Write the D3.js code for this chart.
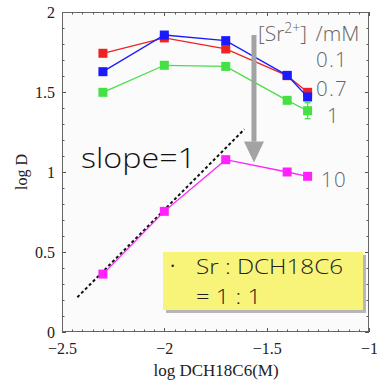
<!DOCTYPE html>
<html><head><meta charset="utf-8">
<script src="https://cdn.jsdelivr.net/npm/d3@7"></script>
<style>body{margin:0;background:#fff}svg{display:block}</style>
</head><body>
<svg id="c" width="377" height="381"></svg>
<script>
const xValues = [-2.3, -2.0, -1.7, -1.4, -1.3];
const red = [1.742, 1.838, 1.769, 1.602, 1.498];
const blue = [1.627, 1.856, 1.821, 1.604, 1.469];
const green = [1.498, 1.667, 1.660, 1.448, 1.383];
const greenErr = [0, 0, 0, 0.015, 0.05];
const magenta = [0.362, 0.754, 1.077, 1.0, 0.973];
const seriesLabels = ["0.1", "0.7", "1", "10"];
const slopeLineX = [-2.425, -1.609];
const slopeLineY = [0.217, 1.267];
const xTicks = [-2.5, -2, -1.5, -1];
const yTicks = [0, 0.5, 1, 1.5, 2];

const svg = d3.select("#c");
const L = 62, R = 369, T = 12, B = 332;
const x = d3.scaleLinear().domain([-2.5, -1]).range([L, R]);
const y = d3.scaleLinear().domain([0, 2]).range([B, T]);

svg.append("rect").attr("x", L).attr("y", T).attr("width", R - L).attr("height", B - T).attr("fill", "#fbfbfb");

// minor ticks
const tickCol = "#555";
const xMinor = d3.range(0, 31).map(i => -2.5 + i * 0.05);
const yMinor = d3.range(0, 21).map(i => i * 0.1);
const tg = svg.append("g").attr("stroke", tickCol).attr("stroke-width", 1);
xMinor.forEach(v => {
  const px = Math.round(x(v)) + 0.5;
  const len = (Math.abs((v * 2) - Math.round(v * 2)) < 1e-6) ? 4 : 2.5;
  tg.append("line").attr("x1", px).attr("x2", px).attr("y1", B).attr("y2", B - len);
  tg.append("line").attr("x1", px).attr("x2", px).attr("y1", T).attr("y2", T + len);
});
yMinor.forEach(v => {
  const py = Math.round(y(v)) + 0.5;
  const len = (Math.abs((v * 2) - Math.round(v * 2)) < 1e-6) ? 4 : 2.5;
  tg.append("line").attr("x1", L).attr("x2", L + len).attr("y1", py).attr("y2", py);
  tg.append("line").attr("x1", R).attr("x2", R - len).attr("y1", py).attr("y2", py);
});

// axes labels via d3 axes
const serif = "'Liberation Serif', 'DejaVu Serif', serif";
const xAxis = svg.append("g").attr("transform", `translate(0,${B})`)
  .call(d3.axisBottom(x).tickValues(xTicks).tickSize(0).tickPadding(11).tickFormat(d3.format("")));
xAxis.select(".domain").remove();
xAxis.selectAll("text").attr("font-family", serif).attr("font-size", 16).attr("fill", "#222");
const yAxis = svg.append("g").attr("transform", `translate(${L},0)`)
  .call(d3.axisLeft(y).tickValues(yTicks).tickSize(0).tickPadding(7).tickFormat(d3.format("")));
yAxis.select(".domain").remove();
yAxis.selectAll("text").attr("font-family", serif).attr("font-size", 16).attr("fill", "#222");

svg.append("rect").attr("x", L + 0.5).attr("y", T + 0.5).attr("width", R - L - 1).attr("height", B - T - 1)
  .attr("fill", "none").attr("stroke", "#666").attr("stroke-width", 1);

svg.append("text").attr("x", 216).attr("y", 376).attr("text-anchor", "middle")
  .attr("font-family", serif).attr("font-size", 17).attr("fill", "#222").text("log DCH18C6(M)");
svg.append("text").attr("transform", "translate(27,172) rotate(-90)").attr("text-anchor", "middle")
  .attr("font-family", serif).attr("font-size", 16).attr("fill", "#222").text("log D");

// slope=1 dashed line
svg.append("line").attr("x1", x(slopeLineX[0])).attr("y1", y(slopeLineY[0]))
  .attr("x2", x(slopeLineX[1])).attr("y2", y(slopeLineY[1]))
  .attr("stroke", "#111").attr("stroke-width", 2).attr("stroke-dasharray", "3,2.5");

// series
const series = [
  {vals: green, color: "#44e044", err: greenErr},
  {vals: red, color: "#ee2222"},
  {vals: blue, color: "#1a1aff"},
  {vals: magenta, color: "#ff22ff"}
];
const line = d3.line().x((d, i) => x(xValues[i])).y(d => y(d));
series.forEach(s => {
  svg.append("path").datum(s.vals).attr("d", line).attr("fill", "none")
    .attr("stroke", s.color).attr("stroke-width", 1.3);
  if (s.err) {
    s.err.forEach((e, i) => {
      if (e > 0) {
        svg.append("line").attr("x1", x(xValues[i])).attr("x2", x(xValues[i]))
          .attr("y1", y(s.vals[i] - e)).attr("y2", y(s.vals[i] + e)).attr("stroke", s.color).attr("stroke-width", 1.3);
        [s.vals[i] - e, s.vals[i] + e].forEach(v => svg.append("line")
          .attr("x1", x(xValues[i]) - 3).attr("x2", x(xValues[i]) + 3)
          .attr("y1", y(v)).attr("y2", y(v)).attr("stroke", s.color).attr("stroke-width", 1.3));
      }
    });
  }
  svg.selectAll(null).data(s.vals).enter().append("rect")
    .attr("x", (d, i) => x(xValues[i]) - 4.5).attr("y", d => y(d) - 4.5)
    .attr("width", 9).attr("height", 9).attr("fill", s.color);
});

// gray arrow
const ax = x(-1.562), aTop = y(1.856), aHeadTop = y(1.19), aBot = y(1.06);
svg.append("rect").attr("x", ax - 2.5).attr("y", aTop).attr("width", 5).attr("height", aHeadTop - aTop).attr("fill", "#a3a3a3");
svg.append("path").attr("d", `M${ax - 10},${aHeadTop} L${ax + 10},${aHeadTop} L${ax},${aBot} Z`).attr("fill", "#a3a3a3");

// texts
const sans = "'Open Sans', 'Noto Sans', sans-serif";
const legT = svg.append("text").attr("x", 258).attr("y", 41).attr("font-family", sans).attr("font-weight", 300)
  .attr("font-size", 21).attr("fill", "#666");
legT.append("tspan").text("[Sr");
legT.append("tspan").attr("font-size", 14).attr("dy", -8).text("2+");
legT.append("tspan").attr("dy", 8).text("] ");
legT.append("tspan").attr("dx", 3).text("/mM");
const labY = [67, 96, 123, 187];
const labX = [316, 316, 327, 321];
seriesLabels.forEach((t, i) => svg.append("text").attr("x", labX[i]).attr("y", labY[i])
  .attr("font-family", sans).attr("font-weight", 300).attr("font-size", 20.5).attr("fill", "#666")
  .attr("letter-spacing", 1.2).text(t));

svg.append("text").attr("x", 81).attr("y", 168).attr("font-family", sans).attr("font-weight", 300)
  .attr("font-size", 27).attr("fill", "#111").attr("textLength", 115).attr("lengthAdjust", "spacingAndGlyphs").text("slope=1");

// yellow box
svg.append("rect").attr("x", 166).attr("y", 255).attr("width", 200).attr("height", 58).attr("fill", "#8a8a8a").attr("opacity", 0.6);
svg.append("rect").attr("x", 163).attr("y", 252).attr("width", 200).attr("height", 58).attr("fill", "#f8f47a");
svg.append("text").attr("x", 170).attr("y", 273).attr("font-family", sans).attr("font-size", 20).attr("fill", "#222").text("·");
svg.append("text").attr("x", 196).attr("y", 274).attr("font-family", sans).attr("font-weight", 300)
  .attr("font-size", 21).attr("fill", "#222").attr("textLength", 147).attr("lengthAdjust", "spacingAndGlyphs").text("Sr : DCH18C6");
svg.append("text").attr("x", 196).attr("y", 304).attr("font-family", sans).attr("font-weight", 300)
  .attr("font-size", 21).attr("fill", "#222").attr("textLength", 65).attr("lengthAdjust", "spacingAndGlyphs").text("= 1 : 1");
</script>
</body></html>
